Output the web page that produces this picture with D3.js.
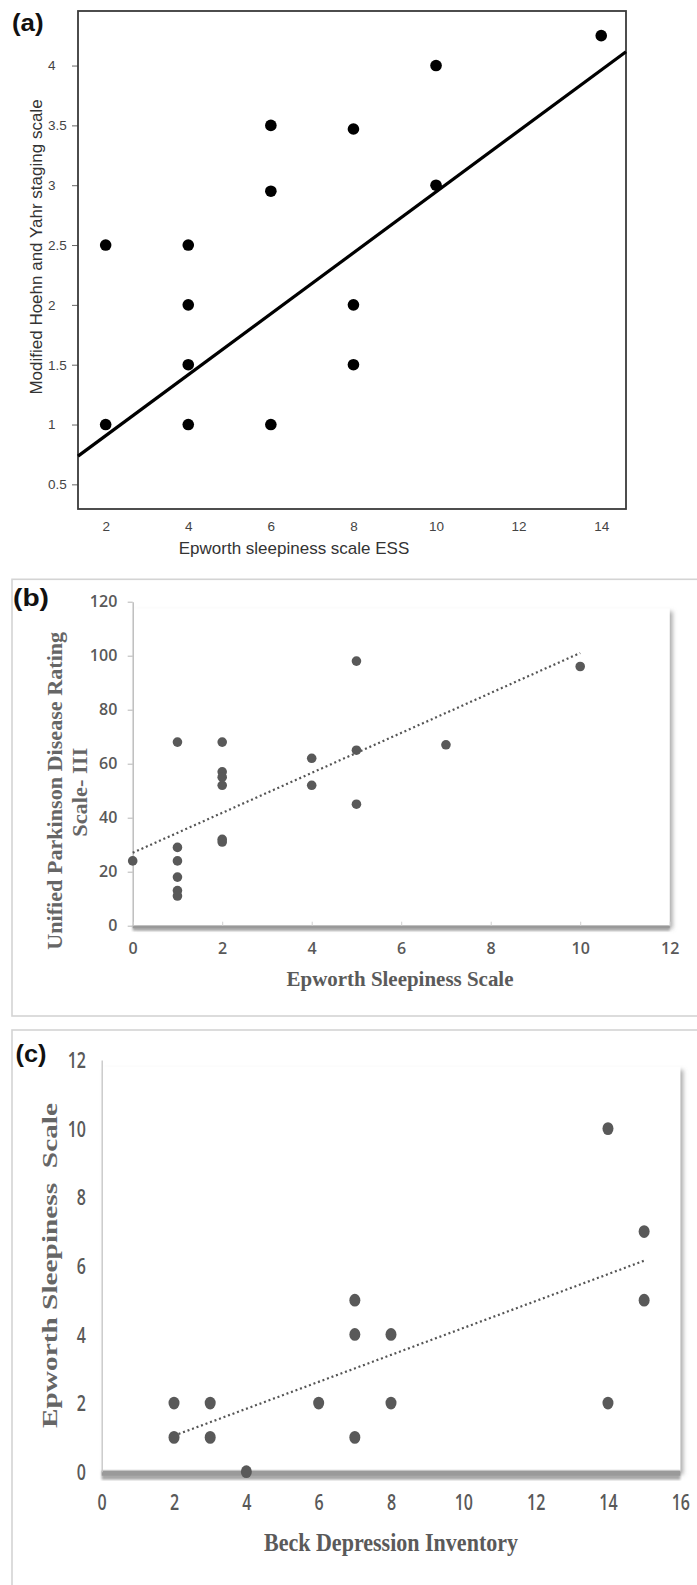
<!DOCTYPE html>
<html>
<head>
<meta charset="utf-8">
<script src="https://cdn.jsdelivr.net/npm/d3@7"></script>
<style>
  body { margin: 0; background: #fff; }
  svg { display: block; }
</style>
</head>
<body>
<script>
// Panel (a): ESS vs modified Hoehn and Yahr
const aEss = [2, 2, 4, 4, 4, 4, 6, 6, 6, 8, 8, 8, 10, 10, 14]
const aHy  = [2.5, 1, 2.5, 2, 1.5, 1, 3.5, 2.95, 1, 3.47, 2, 1.5, 4, 3, 4.25]
const aFit = [[1.33, 0.736], [14.6, 4.116]]
const aXTicks = [2, 4, 6, 8, 10, 12, 14]
const aYTicks = [0.5, 1, 1.5, 2, 2.5, 3, 3.5, 4]

// Panel (b): ESS vs UPDRS III
const bEss   = [0, 1, 1, 1, 1, 1, 1, 2, 2, 2, 2, 2, 2, 4, 4, 5, 5, 5, 7, 10]
const bUpdrs = [24, 68, 29, 24, 18, 13, 11, 68, 57, 55, 52, 32, 31, 62, 52, 98, 65, 45, 67, 96]
const bFit = [[0, 27], [10, 101]]
const bXTicks = [0, 2, 4, 6, 8, 10, 12]
const bYTicks = [0, 20, 40, 60, 80, 100, 120]

// Panel (c): BDI vs ESS
const cBdi = [2, 2, 3, 3, 4, 6, 7, 7, 7, 8, 8, 14, 14, 15, 15]
const cEss = [2, 1, 2, 1, 0, 2, 5, 4, 1, 4, 2, 10, 2, 7, 5]
const cFit = [[2, 1.05], [15, 6.15]]
const cXTicks = [0, 2, 4, 6, 8, 10, 12, 14, 16]
const cYTicks = [0, 2, 4, 6, 8, 10, 12]

const width = 697
const height = 1585
const serif = "'Liberation Serif', 'Times New Roman', serif"
const sans = "'Liberation Sans', Arial, sans-serif"
const tickFont = "'Open Sans', sans-serif"

const svg = d3.select("body").append("svg")
    .attr("width", width)
    .attr("height", height)

svg.append("rect").attr("width", width).attr("height", height).attr("fill", "#fff")

const defs = svg.append("defs")
defs.append("filter").attr("id", "shadow")
    .attr("x", "-5%").attr("y", "-5%").attr("width", "115%").attr("height", "115%")
  .append("feDropShadow")
    .attr("dx", 3).attr("dy", 3).attr("stdDeviation", 2)
    .attr("flood-color", "#777").attr("flood-opacity", 0.6)
defs.append("filter").attr("id", "blur")
  .append("feGaussianBlur").attr("stdDeviation", 1.2)

const zip = (xs, ys) => xs.map((x, i) => ({x: x, y: ys[i]}))

const panelLabel = (txt, x, y, len) => {
    svg.append("text")
        .attr("x", x).attr("y", y)
        .attr("font-family", sans)
        .attr("font-weight", "bold")
        .attr("font-size", 23)
        .attr("textLength", len)
        .attr("lengthAdjust", "spacingAndGlyphs")
        .attr("fill", "#111")
        .text(txt)
}

// ---------- (a) ----------
const renderA = () => {
    const x = d3.scaleLinear().domain([1.33, 14.6]).range([78, 626])
    const y = d3.scaleLinear().domain([0.294, 4.456]).range([509, 11])
    const g = svg.append("g")

    // y axis
    const yAxisG = g.append("g")
        .attr("transform", `translate(${x.range()[0]},0)`)
        .call(d3.axisLeft(y).tickValues(aYTicks).tickSize(6).tickFormat(d => String(d)))
    yAxisG.select(".domain").remove()
    yAxisG.selectAll(".tick line").attr("stroke", "#666")
    yAxisG.selectAll("text")
        .attr("text-anchor", "start")
        .attr("x", -30)
        .attr("font-family", sans)
        .attr("font-size", 13.5)
        .attr("fill", "#444")

    // x axis
    const xAxisG = g.append("g")
        .attr("transform", `translate(0,${y.range()[0]})`)
        .call(d3.axisBottom(x).tickValues(aXTicks).tickSize(0).tickPadding(12))
    xAxisG.select(".domain").remove()
    xAxisG.selectAll("text")
        .attr("font-family", sans)
        .attr("font-size", 13.5)
        .attr("fill", "#444")

    // frame
    g.append("rect")
        .attr("x", x.range()[0]).attr("y", y.range()[1])
        .attr("width", x.range()[1] - x.range()[0])
        .attr("height", y.range()[0] - y.range()[1])
        .attr("fill", "none")
        .attr("stroke", "#3a3a3a")
        .attr("stroke-width", 1.8)

    // fit line
    g.append("path")
        .datum(aFit)
        .attr("d", d3.line().x(d => x(d[0])).y(d => y(d[1])))
        .attr("stroke", "#000")
        .attr("stroke-width", 3.2)
        .attr("fill", "none")

    // points
    g.selectAll("circle.pt").data(zip(aEss, aHy))
      .enter().append("circle")
        .attr("class", "pt")
        .attr("cx", d => x(d.x))
        .attr("cy", d => y(d.y))
        .attr("r", 5.8)
        .attr("fill", "#000")

    // titles
    g.append("text")
        .attr("transform", "translate(42,247) rotate(-90)")
        .attr("text-anchor", "middle")
        .attr("font-family", sans)
        .attr("font-size", 17)
        .attr("fill", "#333")
        .text("Modified Hoehn and Yahr staging scale")

    g.append("text")
        .attr("x", 294).attr("y", 554)
        .attr("text-anchor", "middle")
        .attr("font-family", sans)
        .attr("font-size", 17)
        .attr("fill", "#333")
        .text("Epworth sleepiness scale ESS")

    panelLabel("(a)", 12, 31, 31.6)
}

// ---------- (b) ----------
const renderB = () => {
    // outer panel box
    svg.append("rect")
        .attr("x", 12).attr("y", 579.3)
        .attr("width", 700).attr("height", 1016 - 579.3)
        .attr("fill", "none").attr("stroke", "#d4d4d4").attr("stroke-width", 1.6)

    const x = d3.scaleLinear().domain([0, 12]).range([132.7, 669.7])
    const y = d3.scaleLinear().domain([0, 120]).range([925.7, 601.7])
    const g = svg.append("g")

    // plot area with soft shadow
    g.append("rect")
        .attr("x", x(0)).attr("y", y(117.5))
        .attr("width", x(12) - x(0))
        .attr("height", y(0) - y(117.5))
        .attr("fill", "#fff")
        .attr("filter", "url(#shadow)")

    // bottom band
    g.append("rect")
        .attr("x", x(0)).attr("y", y(0))
        .attr("width", x(12) - x(0)).attr("height", 5)
        .attr("fill", "#a8a8a8")
        .attr("filter", "url(#blur)")
    g.append("rect")
        .attr("x", x(0)).attr("y", y(0))
        .attr("width", x(12) - x(0)).attr("height", 2.5)
        .attr("fill", "#999")

    // y axis
    const yAxisG = g.append("g")
        .attr("transform", `translate(${x(0)},0)`)
        .call(d3.axisLeft(y).tickValues(bYTicks).tickSize(5).tickSizeOuter(0).tickPadding(10.4))
    yAxisG.select(".domain").attr("stroke", "#b5b5b5").attr("stroke-width", 1.3)
    yAxisG.selectAll(".tick line").attr("stroke", "#b5b5b5")
    yAxisG.selectAll("text")
        .attr("font-family", tickFont)
        .attr("font-weight", 600)
        .attr("font-size", 16)
        .attr("fill", "#595959")

    // x axis
    const xAxisG = g.append("g")
        .attr("transform", `translate(0,${y(0)})`)
        .call(d3.axisBottom(x).tickValues(bXTicks).tickSizeInner(-4).tickSizeOuter(0).tickPadding(17))
    xAxisG.select(".domain").remove()
    xAxisG.selectAll(".tick line").attr("stroke", "#d0d0d0")
    xAxisG.selectAll("text")
        .attr("font-family", tickFont)
        .attr("font-weight", 600)
        .attr("font-size", 16)
        .attr("fill", "#595959")

    // dotted trend line
    g.append("path")
        .datum(bFit)
        .attr("d", d3.line().x(d => x(d[0])).y(d => y(d[1])))
        .attr("stroke", "#555")
        .attr("stroke-width", 2.2)
        .attr("stroke-dasharray", "2,2.8")
        .attr("fill", "none")

    // points
    g.selectAll("circle.pt").data(zip(bEss, bUpdrs))
      .enter().append("circle")
        .attr("class", "pt")
        .attr("cx", d => x(d.x))
        .attr("cy", d => y(d.y))
        .attr("r", 4.8)
        .attr("fill", "#595959")

    // titles
    g.append("text")
        .attr("transform", "translate(61.7,790.8) rotate(-90)")
        .attr("text-anchor", "middle")
        .attr("font-family", serif)
        .attr("font-weight", "bold")
        .attr("font-size", 22)
        .attr("textLength", 318)
        .attr("lengthAdjust", "spacingAndGlyphs")
        .attr("fill", "#666")
        .text("Unified Parkinson Disease Rating")
    g.append("text")
        .attr("transform", "translate(87.3,792.3) rotate(-90)")
        .attr("text-anchor", "middle")
        .attr("font-family", serif)
        .attr("font-weight", "bold")
        .attr("font-size", 22)
        .attr("textLength", 89)
        .attr("lengthAdjust", "spacingAndGlyphs")
        .attr("fill", "#666")
        .text("Scale- III")

    g.append("text")
        .attr("x", 400).attr("y", 986)
        .attr("text-anchor", "middle")
        .attr("font-family", serif)
        .attr("font-weight", "bold")
        .attr("font-size", 22)
        .attr("textLength", 227)
        .attr("lengthAdjust", "spacingAndGlyphs")
        .attr("fill", "#5a5a5a")
        .text("Epworth Sleepiness Scale")

    panelLabel("(b)", 13, 606, 36)
}

// ---------- (c) ----------
const renderC = () => {
    svg.append("rect")
        .attr("x", 12).attr("y", 1030)
        .attr("width", 700).attr("height", 600)
        .attr("fill", "none").attr("stroke", "#d4d4d4").attr("stroke-width", 1.6)

    const x = d3.scaleLinear().domain([0, 16]).range([101.7, 680.3])
    const y = d3.scaleLinear().domain([0, 12]).range([1471.7, 1060])
    const g = svg.append("g")

    g.append("rect")
        .attr("x", x(0)).attr("y", y(11.8))
        .attr("width", x(16) - x(0))
        .attr("height", y(0) - y(11.8))
        .attr("fill", "#fff")
        .attr("filter", "url(#shadow)")

    g.append("rect")
        .attr("x", x(0)).attr("y", y(0) - 1)
        .attr("width", x(16) - x(0)).attr("height", 9)
        .attr("fill", "#a8a8a8")
        .attr("filter", "url(#blur)")
    g.append("rect")
        .attr("x", x(0)).attr("y", y(0) - 1)
        .attr("width", x(16) - x(0)).attr("height", 5)
        .attr("fill", "#9a9a9a")

    // y axis
    const yAxisG = g.append("g")
        .attr("transform", `translate(${x(0)},0)`)
        .call(d3.axisLeft(y).tickValues(cYTicks).tickSize(0))
    yAxisG.select(".domain").attr("stroke", "#c4c4c4").attr("stroke-width", 1.3)
    yAxisG.selectAll("text")
        .attr("x", 0).attr("dy", null)
        .attr("transform", "translate(-15.7,7.7) scale(1,1.35)")
        .attr("font-family", tickFont)
        .attr("font-weight", 600)
        .attr("font-size", 16)
        .attr("fill", "#595959")

    // x axis
    const xAxisG = g.append("g")
        .attr("transform", `translate(0,${y(0)})`)
        .call(d3.axisBottom(x).tickValues(cXTicks).tickSize(0))
    xAxisG.select(".domain").remove()
    xAxisG.selectAll("text")
        .attr("y", 0).attr("dy", null)
        .attr("transform", "translate(0,38.7) scale(1,1.35)")
        .attr("font-family", tickFont)
        .attr("font-weight", 600)
        .attr("font-size", 16)
        .attr("fill", "#595959")

    g.append("path")
        .datum(cFit)
        .attr("d", d3.line().x(d => x(d[0])).y(d => y(d[1])))
        .attr("stroke", "#555")
        .attr("stroke-width", 2.2)
        .attr("stroke-dasharray", "2,2.8")
        .attr("fill", "none")

    g.selectAll("ellipse.pt").data(zip(cBdi, cEss))
      .enter().append("ellipse")
        .attr("class", "pt")
        .attr("cx", d => x(d.x))
        .attr("cy", d => y(d.y))
        .attr("rx", 5.5)
        .attr("ry", 6.4)
        .attr("fill", "#595959")

    g.append("text")
        .attr("transform", "translate(56.7,1265.5) rotate(-90)")
        .attr("text-anchor", "middle")
        .attr("font-family", serif)
        .attr("font-weight", "bold")
        .attr("font-size", 22)
        .attr("textLength", 325)
        .attr("lengthAdjust", "spacingAndGlyphs")
        .attr("fill", "#666")
        .style("white-space", "pre")
        .text("Epworth Sleepiness  Scale")

    g.append("text")
        .attr("x", 391).attr("y", 1550.7)
        .attr("text-anchor", "middle")
        .attr("font-family", serif)
        .attr("font-weight", "bold")
        .attr("font-size", 26)
        .attr("textLength", 254)
        .attr("lengthAdjust", "spacingAndGlyphs")
        .attr("fill", "#5a5a5a")
        .text("Beck Depression Inventory")

    panelLabel("(c)", 15.5, 1062, 31)
}

renderA()
renderB()
renderC()
</script>
</body>
</html>
